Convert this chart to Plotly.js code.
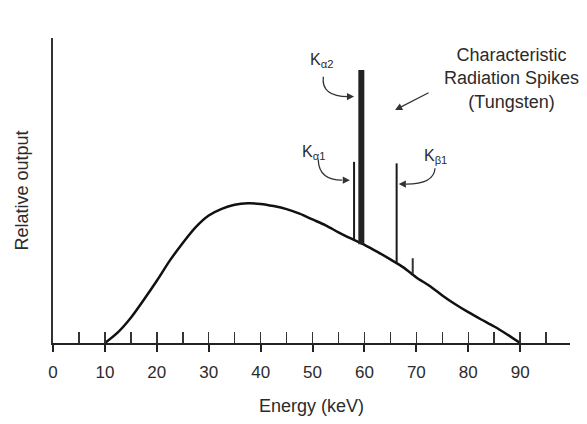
<!DOCTYPE html>
<html>
<head>
<meta charset="utf-8">
<script src="https://cdn.plot.ly/plotly-3.0.1.min.js"></script>
<style>html,body{margin:0;padding:0;background:#fff;}#chart{width:587px;height:424px;}</style>
</head>
<body>
<div id="chart"></div>
<script>
// Continuous bremsstrahlung spectrum (energy in keV, relative output)
const energyKeV = [10, 12.5, 15, 17.5, 20, 22.5, 25, 27.5, 30, 32.5, 35, 37.5, 40, 42.5, 45, 47.5, 50, 52.5, 55, 57.5, 60, 62.5, 65, 67.5, 70, 72.5, 75, 77.5, 80, 82.5, 85, 87.5, 90];
const relOutput = [0, 3.5, 8.3, 14.2, 20.4, 27.0, 32.8, 38.0, 41.8, 44.0, 45.3, 45.8, 45.6, 44.9, 43.9, 42.4, 40.5, 38.6, 36.3, 34.2, 32.2, 29.9, 27.4, 24.8, 21.5, 18.8, 15.6, 12.7, 10.1, 7.7, 5.4, 2.8, 0];

// Characteristic spikes (tungsten)
const spikeEnergy = [58.0, 59.4, 66.2, 69.3];
const spikeBase   = [33.8, 32.4, 26.0, 22.6];
const spikeTop    = [59.4, 89.5, 58.9, 27.8];

// Axis ticks
const majorTicks = [0, 10, 20, 30, 40, 50, 60, 70, 80, 90];
const tickLabels = ['0', '10', '20', '30', '40', '50', '60', '70', '80', '90'];
const minorTicks = [0, 5, 10, 15, 20, 25, 30, 35, 40, 45, 50, 55, 60, 65, 70, 75, 80, 85, 90, 95];

// styles
const spikeWidths = [2, 6, 2, 2];
const spikeColors = ['#1a1a1a', '#222', '#1a1a1a', '#333'];
const FONT = 'Liberation Sans, Arial, Helvetica, sans-serif';
const INK = '#2b2b2b';

const traces = [{
  x: energyKeV, y: relOutput, type: 'scatter', mode: 'lines',
  line: {color: '#111', width: 2.5, shape: 'spline', smoothing: 0.8},
  showlegend: false, hoverinfo: 'x+y'
}];
spikeEnergy.forEach((e, i) => {
  traces.push({
    x: [e, e], y: [spikeBase[i], spikeTop[i]], type: 'scatter', mode: 'lines',
    line: {color: spikeColors[i], width: spikeWidths[i]}, showlegend: false
  });
});
traces.push({x: [], y: [], xaxis: 'x2', type: 'scatter', mode: 'lines', showlegend: false, hoverinfo: 'skip'});

const XR = [0, 99.6];

function curveArrow(path, tipX, tipY, ax) {
  return {
    shape: {type: 'path', xref: 'x', yref: 'y', path: path, line: {color: '#333', width: 1.3}},
    ann: {x: tipX, y: tipY, xref: 'x', yref: 'y', ax: ax, ay: 0, text: '', showarrow: true,
          arrowhead: 2, arrowsize: 1.1, arrowwidth: 1.3, arrowcolor: '#333', standoff: 0, startstandoff: 0}
  };
}
const a1 = curveArrow('M 52.08 87.3 Q 51.6 80.7 57.03 80.8', 58.0, 80.8, -8);
const a2 = curveArrow('M 51.1 60.0 Q 51.25 53.4 55.7 53.4', 57.2, 53.4, -8);
const a3 = curveArrow('M 73.6 57.3 Q 73.4 52.1 68.0 52.1', 66.6, 52.1, 8);

function kLabel(sub) {
  return '<span style="color:' + INK + '">K<sub>' + sub + '</sub></span>';
}

const layout = {
  width: 587, height: 424,
  margin: {l: 53, r: 17, t: 38, b: 81, pad: 0},
  paper_bgcolor: '#fff', plot_bgcolor: '#fff',
  showlegend: false,
  xaxis: {
    range: XR, showgrid: false, zeroline: false,
    showline: true, linecolor: '#222', linewidth: 2,
    tickmode: 'array', tickvals: majorTicks, ticktext: tickLabels,
    ticks: 'outside', ticklen: 7, tickwidth: 2, tickcolor: '#222',
    ticklabelstandoff: 6,
    tickfont: {family: FONT, size: 17, color: INK},
    title: {text: 'Energy (keV)', font: {family: FONT, size: 18, color: INK}, standoff: 18}
  },
  xaxis2: {
    range: XR, overlaying: 'x', anchor: 'y', side: 'bottom',
    showgrid: false, zeroline: false, showline: false,
    tickmode: 'array', tickvals: minorTicks, showticklabels: false,
    ticks: 'inside', ticklen: 11, tickwidth: 1.5, tickcolor: '#333'
  },
  yaxis: {
    range: [0, 100], showgrid: false, zeroline: false,
    showline: true, linecolor: '#333', linewidth: 2,
    ticks: '', showticklabels: false,
    title: {text: 'Relative output', font: {family: FONT, size: 18, color: INK}, standoff: 18}
  },
  shapes: [a1.shape, a2.shape, a3.shape],
  annotations: [
    a1.ann, a2.ann, a3.ann,
    {x: 65.9, y: 76.4, xref: 'x', yref: 'y', ax: 35, ay: -18, text: '', showarrow: true,
     arrowhead: 2, arrowsize: 1.1, arrowwidth: 1.3, arrowcolor: '#333'},
    {x: 49.1, y: 92.6, xref: 'x', yref: 'y', xanchor: 'left', yanchor: 'middle', showarrow: false,
     text: kLabel('α2'), font: {family: FONT, size: 16, color: INK}},
    {x: 47.6, y: 62.6, xref: 'x', yref: 'y', xanchor: 'left', yanchor: 'middle', showarrow: false,
     text: kLabel('α1'), font: {family: FONT, size: 16, color: INK}},
    {x: 71.0, y: 61.0, xref: 'x', yref: 'y', xanchor: 'left', yanchor: 'middle', showarrow: false,
     text: kLabel('β1'), font: {family: FONT, size: 16, color: INK}},
    {x: 88.4, y: 86.6, xref: 'x', yref: 'y', xanchor: 'center', yanchor: 'middle', showarrow: false,
     align: 'center', text: 'Characteristic<br>Radiation Spikes<br>(Tungsten)',
     font: {family: FONT, size: 18, color: INK}}
  ]
};

Plotly.newPlot('chart', traces, layout, {staticPlot: true, displayModeBar: false});
</script>
</body>
</html>
